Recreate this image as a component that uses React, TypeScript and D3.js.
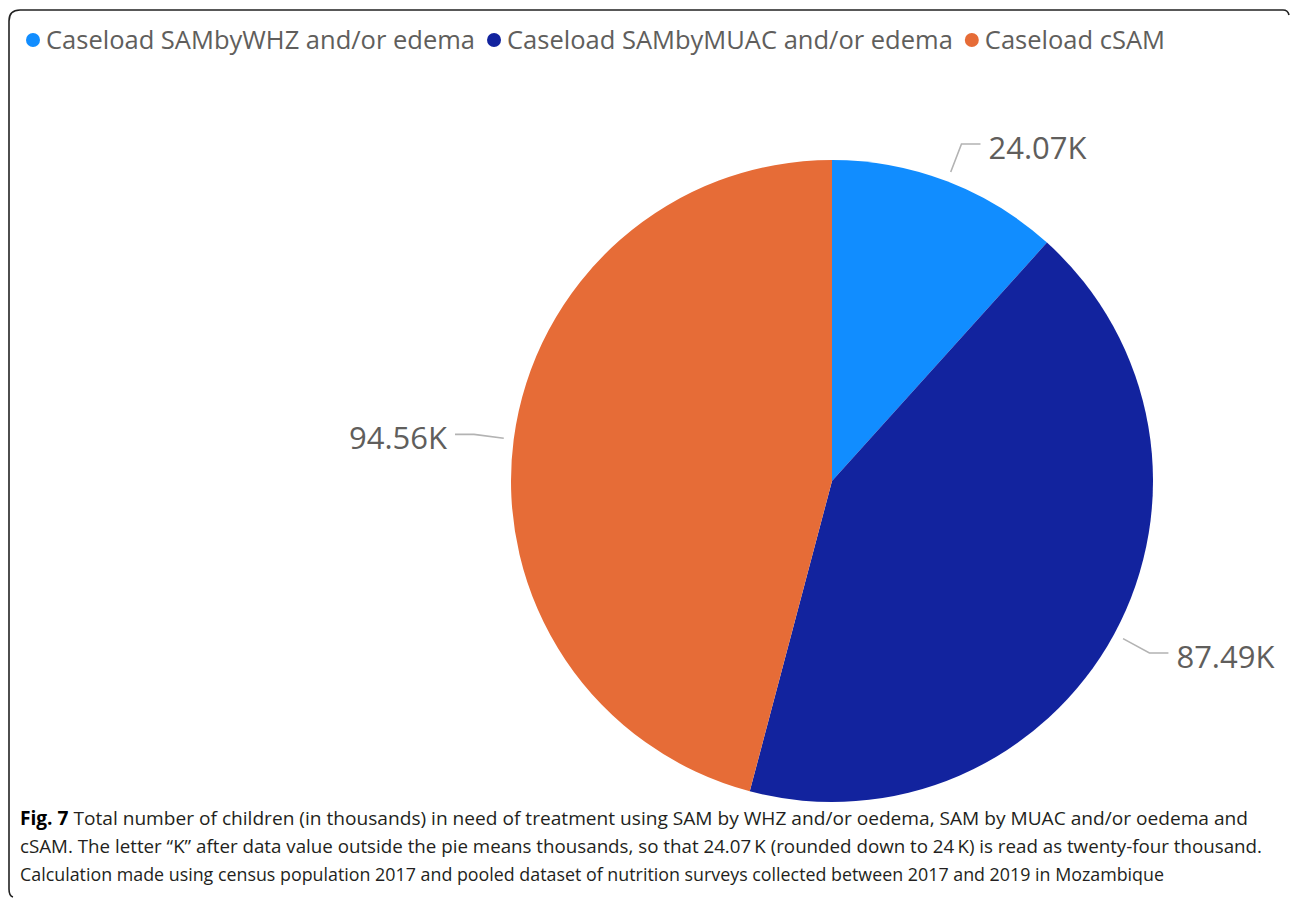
import * as d3 from 'd3';
import { useEffect, useRef } from 'react';

const categories = [
  'Caseload SAMbyWHZ and/or edema',
  'Caseload SAMbyMUAC and/or edema',
  'Caseload cSAM',
];
const values = [24.07, 87.49, 94.56];
const colors = ['#118DFF', '#12239E', '#E66C37'];

const captionBold = 'Fig. 7';
const captionLines = [
  ' Total number of children (in thousands) in need of treatment using SAM by WHZ and/or oedema, SAM by MUAC and/or oedema and',
  'cSAM. The letter \u201CK\u201D after data value outside the pie means thousands, so that 24.07\u2009K (rounded down to 24\u2009K) is read as twenty-four thousand.',
  'Calculation made using census population 2017 and pooled dataset of nutrition surveys collected between 2017 and 2019 in Mozambique',
];
const captionWidths = [1228, 1242, 1144];

const W = 1290;
const H = 900;
const FONT = '"Segoe UI", "Open Sans", sans-serif';

export default function App() {
  const ref = useRef<SVGSVGElement>(null);

  useEffect(() => {
    if (!ref.current) return;
    const svg = d3.select(ref.current);
    svg.selectAll('*').remove();

    svg.append('rect').attr('width', W).attr('height', H).attr('fill', '#fff');

    // frame (left + top edges with rounded corners)
    svg
      .append('path')
      .attr('d', 'M 13 897 Q 9 896 9 889 L 9 21 Q 9 10 20 10 L 1283 10 Q 1288 10 1289 15')
      .attr('fill', 'none')
      .attr('stroke', '#222')
      .attr('stroke-width', 1.6);

    // legend
    const legend = svg.append('g').attr('transform', 'translate(33,40)');
    let x = 0;
    categories.forEach((c, i) => {
      const g = legend.append('g').attr('transform', `translate(${x},0)`);
      g.append('circle').attr('r', 7).attr('fill', colors[i]);
      const t = g
        .append('text')
        .attr('x', 13)
        .attr('y', 9)
        .attr('font-family', FONT)
        .attr('font-size', 25.5)
        .attr('fill', '#605E5C')
        .text(c);
      const len = (t.node() as SVGTextElement).getComputedTextLength();
      x += 13 + len + 19;
    });

    // pie
    const cx = 832;
    const cy = 481;
    const r = 321;
    const pie = d3
      .pie<number>()
      .sort(null)
      .value((d) => d);
    const arcs = pie(values);
    const arc = d3.arc<d3.PieArcDatum<number>>().innerRadius(0).outerRadius(r);
    const pg = svg.append('g').attr('transform', `translate(${cx},${cy})`);
    pg.selectAll('path.slice')
      .data(arcs)
      .join('path')
      .attr('class', 'slice')
      .attr('d', arc)
      .attr('fill', (_, i) => colors[i]);

    const fmt = (v: number) => d3.format('.2f')(v) + 'K';
    const inner = d3.arc<d3.PieArcDatum<number>>().innerRadius(r + 10).outerRadius(r + 10);
    const outer = d3.arc<d3.PieArcDatum<number>>().innerRadius(r + 40).outerRadius(r + 40);

    arcs.forEach((a) => {
      const p1 = inner.centroid(a);
      const p2 = outer.centroid(a);
      const mid = (a.startAngle + a.endAngle) / 2;
      const right = mid < Math.PI;
      const p3: [number, number] = [p2[0] + (right ? 19 : -19), p2[1]];
      pg.append('polyline')
        .attr('points', [p1, p2, p3].map((p) => p.join(',')).join(' '))
        .attr('fill', 'none')
        .attr('stroke', '#b3b3b3')
        .attr('stroke-width', 1.6);
      pg.append('text')
        .attr('x', p3[0] + (right ? 8 : -8))
        .attr('y', p3[1] + 15)
        .attr('text-anchor', right ? 'start' : 'end')
        .attr('font-family', FONT)
        .attr('font-size', 31)
        .attr('fill', '#605E5C')
        .text(fmt(a.data));
    });

    // caption
    const cap = svg.append('g').attr('transform', 'translate(20,0)');
    captionLines.forEach((line, i) => {
      const t = cap
        .append('text')
        .attr('y', 825 + i * 28)
        .attr('font-family', '"Open Sans", sans-serif')
        .attr('font-size', 19)
        .attr('fill', '#231f20')
        .attr('textLength', captionWidths[i])
        .attr('lengthAdjust', 'spacingAndGlyphs');
      if (i === 0) {
        t.append('tspan').attr('font-weight', 'bold').attr('fill', '#000').text(captionBold);
      }
      t.append('tspan').text(line);
    });
  }, []);

  return (
    <svg
      ref={ref}
      width={W}
      height={H}
      style={{ position: 'absolute', left: 0, top: 0, display: 'block' }}
    />
  );
}
